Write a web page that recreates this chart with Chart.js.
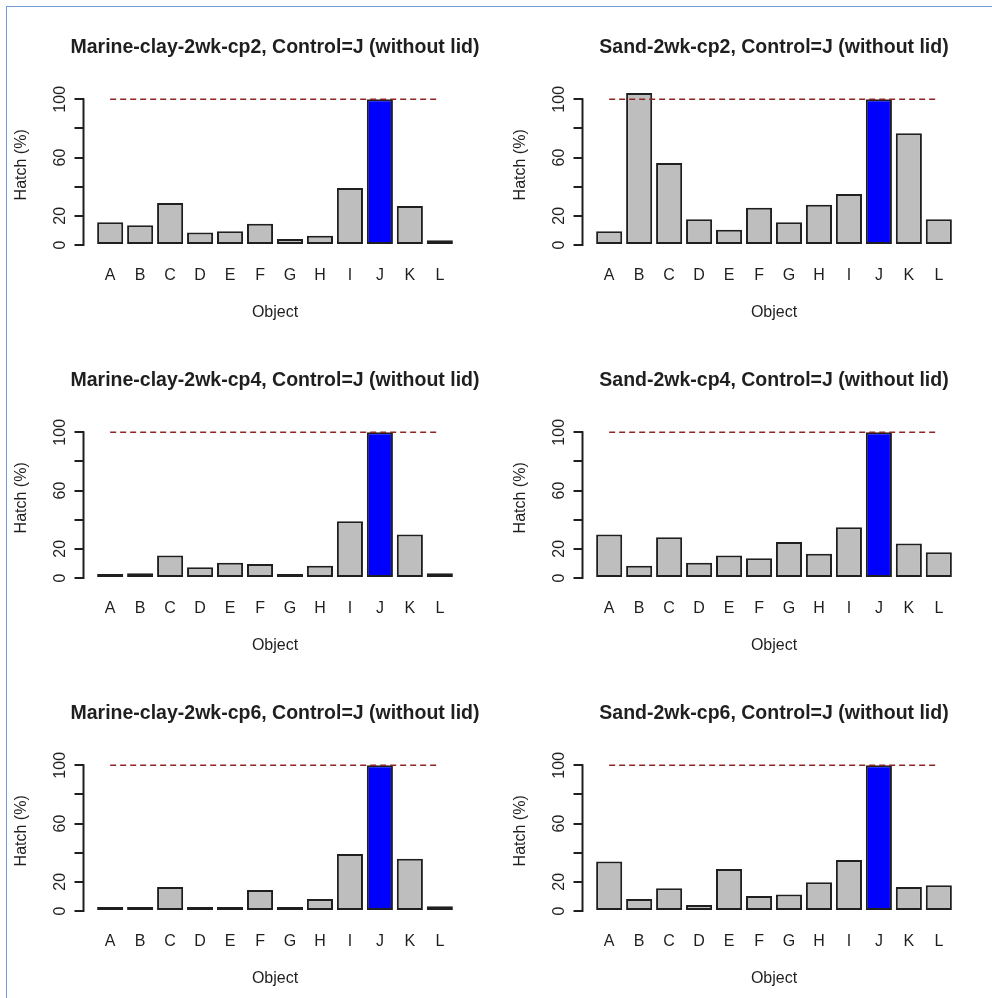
<!DOCTYPE html>
<html><head><meta charset="utf-8">
<script src="https://cdn.jsdelivr.net/npm/chart.js@4.4.1/dist/chart.umd.min.js"></script>
<style>
html,body{margin:0;padding:0;background:#fff;overflow:hidden;width:992px;height:998px;position:relative;}
#frame{position:absolute;left:6px;top:6px;width:986px;height:992px;border-left:1px solid #6f9ad3;border-top:1px solid #6f9ad3;box-sizing:border-box;}
canvas{position:absolute;}
</style></head><body>
<div id="frame"></div>
<script>
// ---- data ----
const categories = ['A','B','C','D','E','F','G','H','I','J','K','L'];
const controlCategory = 'J';
const controlLevel = 100;
const yTicks = [0, 20, 40, 60, 80, 100];
const yTickLabels = ['0', '20', '', '60', '', '100'];
const yLabel = 'Hatch (%)';
const xLabel = 'Object';
const panelTitles = [
  'Marine-clay-2wk-cp2, Control=J (without lid)',
  'Sand-2wk-cp2, Control=J (without lid)',
  'Marine-clay-2wk-cp4, Control=J (without lid)',
  'Sand-2wk-cp4, Control=J (without lid)',
  'Marine-clay-2wk-cp6, Control=J (without lid)',
  'Sand-2wk-cp6, Control=J (without lid)'
];
const marineClayCp2 = [15.6, 13.5, 28.8, 8.5, 9.4, 14.6, 4.1, 6.4, 39.1, 100, 26.8, 3.2];
const sandCp2       = [9.4, 104.3, 56.3, 17.6, 10.5, 25.6, 15.6, 27.7, 35.0, 100, 76.7, 17.6];
const marineClayCp4 = [1.1, 3.2, 15.5, 7.3, 10.5, 9.6, 2.3, 8.4, 39.0, 100, 29.9, 3.2];
const sandCp4       = [29.9, 8.4, 27.9, 10.5, 15.5, 13.5, 24.7, 16.7, 34.9, 100, 23.7, 17.6];
const marineClayCp6 = [2.1, 2.1, 16.5, 2.1, 2.1, 14.4, 2.1, 8.2, 39.1, 100, 35.9, 3.2];
const sandCp6       = [33.9, 8.2, 15.6, 4.1, 28.8, 10.3, 11.4, 19.7, 35.0, 100, 16.5, 17.6];
const panelValues = [marineClayCp2, sandCp2, marineClayCp4, sandCp4, marineClayCp6, sandCp6];

// ---- style ----
const FONT = "'Liberation Sans', Arial, sans-serif";
const INK = '#1f1f1f';
Chart.defaults.font.family = FONT;
Chart.defaults.color = INK;

const rAxisLine = {
  id: 'rAxisLine',
  afterDraw(chart) {
    const y = chart.scales.y, ctx = chart.ctx;
    ctx.save();
    ctx.strokeStyle = INK; ctx.lineWidth = 2;
    ctx.beginPath();
    ctx.moveTo(y.right, y.getPixelForValue(yTicks[0]) + 1);
    ctx.lineTo(y.right, y.getPixelForValue(yTicks[yTicks.length - 1]) - 1);
    ctx.stroke();
    ctx.restore();
  }
};

const W = 550, H = 333;
panelValues.forEach((vals, idx) => {
  const row = Math.floor(idx / 2), col = idx % 2;
  const cv = document.createElement('canvas');
  cv.width = W; cv.height = H;
  cv.style.left = (col * 499) + 'px';
  cv.style.top = (row * 333) + 'px';
  cv.style.width = W + 'px'; cv.style.height = H + 'px';
  document.body.appendChild(cv);

  new Chart(cv, {
    type: 'bar',
    data: {
      datasets: [
        {
          type: 'line',
          order: 0,
          data: categories.map((c, i) => ({x: i, y: controlLevel})),
          borderColor: '#8f2525',
          borderWidth: 1.5,
          borderDash: [6, 4],
          pointRadius: 0,
          fill: false,
          clip: false
        },
        {
          type: 'bar',
          order: 1,
          data: vals.map((v, i) => ({x: i, y: v})),
          backgroundColor: categories.map(c => c === controlCategory ? '#0000FF' : '#BEBEBE'),
          borderColor: INK,
          borderWidth: 2,
          borderSkipped: false,
          categoryPercentage: 1,
          barPercentage: 0.87,
          minBarLength: 4,
          clip: false
        }
      ]
    },
    options: {
      responsive: false,
      animation: false,
      devicePixelRatio: 1,
      layout: {padding: 0},
      plugins: {
        legend: {display: false},
        tooltip: {enabled: false},
        title: {
          display: true,
          text: panelTitles[idx],
          color: INK,
          font: {family: FONT, size: 19.5, weight: 'bold'},
          padding: {top: 36.3, bottom: 18.6}
        }
      },
      scales: {
        x: {
          type: 'linear',
          offset: false,
          min: -0.89, max: 11.89,
          afterBuildTicks: s => { s.ticks = categories.map((c, i) => ({value: i})); },
          afterFit: s => { s.height = 81.6; },
          ticks: {
            callback: v => categories[v],
            autoSkip: false, maxRotation: 0, minRotation: 0,
            font: {size: 16}, color: INK, padding: 15
          },
          grid: {display: false, drawTicks: false, offset: false},
          border: {display: false},
          title: {display: true, text: xLabel, color: INK, font: {size: 16}, padding: {top: 0, bottom: 10.4}}
        },
        y: {
          type: 'linear',
          position: 'left',
          min: -4.4, max: 114.4,
          afterBuildTicks: s => { s.ticks = yTicks.map(v => ({value: v})); },
          afterFit: s => { s.width = 83.5; },
          ticks: {
            callback: v => yTickLabels[yTicks.indexOf(v)],
            autoSkip: false, minRotation: 90, maxRotation: 90, crossAlign: 'center',
            font: {size: 16}, color: INK, padding: 1
          },
          grid: {display: true, drawOnChartArea: false, drawTicks: true, tickLength: 9, color: INK, lineWidth: 2},
          border: {display: false},
          title: {display: true, text: yLabel, color: INK, font: {size: 16}, padding: {top: 12, bottom: 0}}
        },
        yPad: {
          type: 'linear',
          position: 'right',
          display: true,
          afterFit: s => { s.width = 83.5; },
          ticks: {display: false},
          grid: {display: false},
          border: {display: false}
        }
      }
    },
    plugins: [rAxisLine]
  });
});
</script>
</body></html>
